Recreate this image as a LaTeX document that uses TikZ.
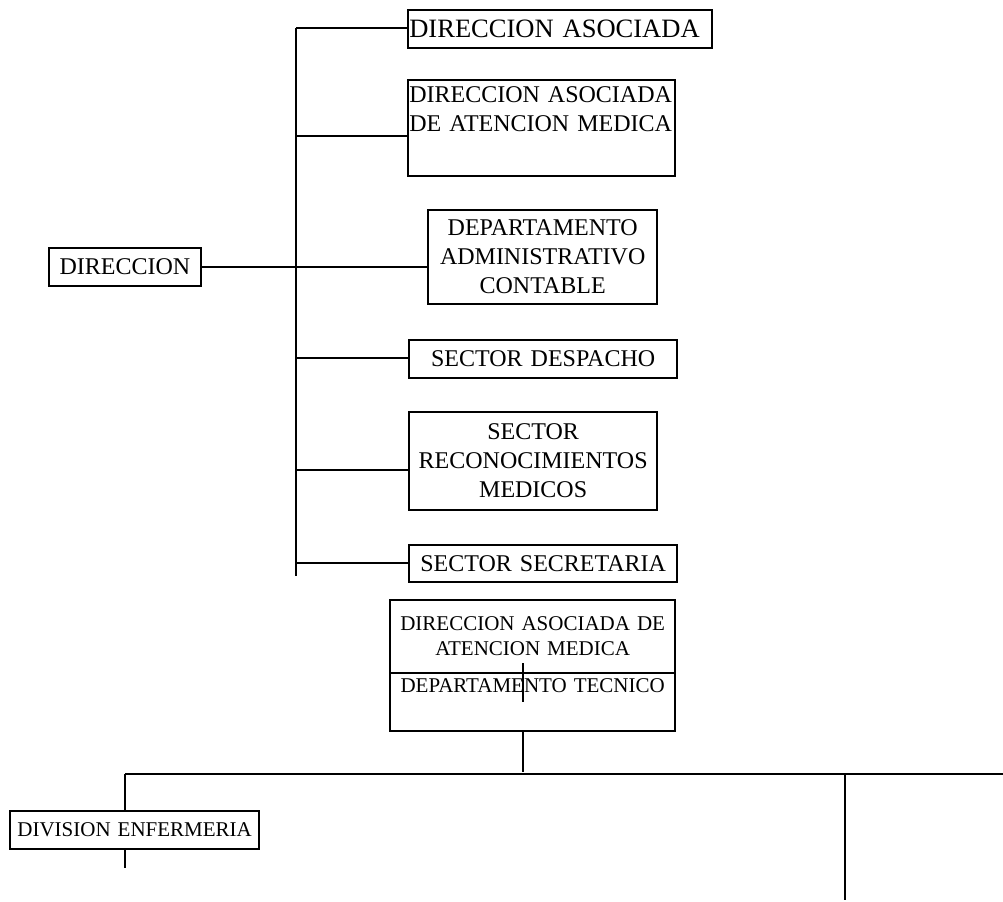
\documentclass[tikz,border=0pt]{standalone}
\usepackage{fontspec}
\setmainfont{Liberation Serif}
\usepackage{tikz}
\usetikzlibrary{calc}

\tikzset{
  caja/.style={draw, line width=1.3pt, anchor=north west, inner sep=2pt, outer sep=0pt},
  grande/.style={font=\fontsize{18}{21.75}\selectfont},
  chica/.style={font=\fontsize{15.75}{18.9}\selectfont},
}

\begin{document}
\begin{tikzpicture}[x=0.75pt, y=-0.75pt, line width=1.3pt]
  \useasboundingbox (0,0) rectangle (1003,901);
  \node [caja, grande] (dir) at (49,248) [minimum width=152*0.75pt, minimum height=38*0.75pt] {DIRECCION};
  \node [caja, font=\fontsize{19.9}{23}\selectfont, align=left, text width=301*0.75pt, inner sep=1pt] (dasoc) at (408,10) [minimum height=38*0.75pt] {DIRECCION ASOCIADA};
  \node [caja, grande, align=left, text width=264*0.75pt, inner sep=1pt] (daam) at (408,80) [minimum height=96*0.75pt] {DIRECCION ASOCIADA\\DE ATENCION MEDICA\\ \strut};
  \node [caja, grande, align=center, text width=224*0.75pt] (dac) at (428,210) [minimum height=94*0.75pt] {DEPARTAMENTO\\ADMINISTRATIVO\\CONTABLE};
  \node [caja, grande, align=center, text width=263*0.75pt] (sdesp) at (409,340) [minimum height=38*0.75pt] {SECTOR DESPACHO};
  \node [caja, grande, align=center, text width=243*0.75pt] (srec) at (409,412) [minimum height=98*0.75pt] {SECTOR\\RECONOCIMIENTOS\\MEDICOS};
  \node [caja, grande, align=center, text width=263*0.75pt] (ssec) at (409,545) [minimum height=37*0.75pt] {SECTOR SECRETARIA};
  \node [caja, chica, align=center, text width=280*0.75pt] (daml) at (390,600) [minimum height=73*0.75pt] {DIRECCION ASOCIADA DE\\ATENCION MEDICA\\[4pt]};
  \node [caja, chica, align=center, text width=280*0.75pt] (dtec) at (390,673) [minimum height=58*0.75pt] {DEPARTAMENTO TECNICO\\ \strut};
  \node [caja, chica, align=center, text width=244*0.75pt] (denf) at (10,811) [minimum height=38*0.75pt] {DIVISION ENFERMERIA};
  \coordinate (tronco) at (296,28);
  \coordinate (tronfin) at (296,576);
  \coordinate (ramal) at (125,774);
  \coordinate (ramfin) at (1003,774);
  \coordinate (baja) at (845,774);
  \draw (tronco) -- (tronfin);
  \draw (tronco) -- (tronco -| dasoc.west);
  \draw (296,136) -- (daam.west |- 0,136);
  \draw (dir.east) -- (dir.east -| dac.west);
  \draw (296,358) -- (sdesp.west |- 0,358);
  \draw (296,470) -- (srec.west |- 0,470);
  \draw (296,563) -- (ssec.west |- 0,563);
  \draw (523,663) -- (523,702);
  \draw (dtec.south -| 523,0) -- (523,772);
  \draw (ramal) -- (ramfin);
  \draw (ramal) -- (ramal |- denf.north);
  \draw (ramal |- denf.south) -- (125,868);
  \draw (baja) -- (845,900);
\end{tikzpicture}
\end{document}
